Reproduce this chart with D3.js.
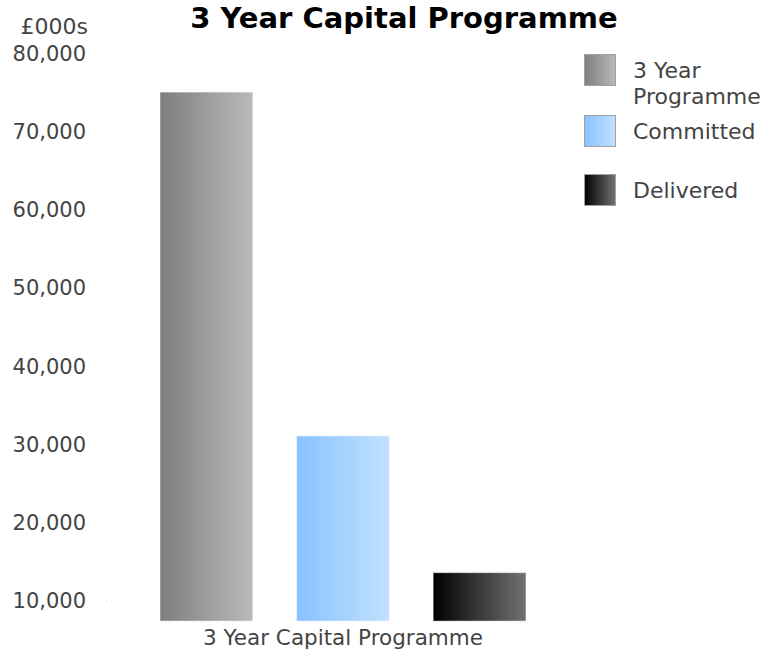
<!DOCTYPE html>
<html>
<head>
<meta charset="utf-8">
<script src="https://cdn.jsdelivr.net/npm/d3@7"></script>
<style>
  body { margin: 0; background: #fff; }
  text { font-family: "DejaVu Sans", sans-serif; }
</style>
</head>
<body>
<div id="chart"></div>
<script>
// data
var category = '3 Year Capital Programme'
var series = ['3 Year Programme', 'Committed', 'Delivered']
var values = [75000, 31000, 13500]
var ticks = [10000, 20000, 30000, 40000, 50000, 60000, 70000, 80000]
var axisMin = 7300
var gradients = [['#7e7e7e', '#bababa'], ['#88c2ff', '#c2e1ff'], ['#000000', '#727272']]

var width = 766
var height = 651

var svg = d3.select('#chart')
  .append('svg')
  .attr('width', width)
  .attr('height', height)

var defs = svg.append('defs')
gradients.forEach((g, i) => {
  var lg = defs.append('linearGradient')
    .attr('id', 'grad' + i)
    .attr('x1', '0%').attr('x2', '100%')
    .attr('y1', '0%').attr('y2', '0%')
  lg.append('stop').attr('offset', '0%').attr('stop-color', g[0])
  lg.append('stop').attr('offset', '100%').attr('stop-color', g[1])
})

var y = d3.scaleLinear()
  .domain([10000, 80000])
  .range([600, 53])

var x = d3.scaleBand()
  .domain(series)
  .range([160, 526])
  .paddingInner(0.32)
  .paddingOuter(0)

var baseline = y(axisMin)

// title: the original is clipped by the top edge, keep it just inside
svg.append('text')
  .attr('x', 404)
  .attr('y', 28)
  .attr('text-anchor', 'middle')
  .attr('font-family', '"Liberation Sans", Arial, sans-serif')
  .attr('font-size', 29)
  .attr('font-weight', 'bold')
  .attr('fill', '#000')
  .text('3 Year Capital Programme')

svg.append('text')
  .attr('x', 88)
  .attr('y', 34)
  .attr('text-anchor', 'end')
  .attr('font-size', 22)
  .attr('fill', '#444')
  .text('£000s')

var axis = svg.append('g')
axis.selectAll('text.tick')
  .data(ticks)
  .enter()
  .append('text')
  .attr('class', 'tick')
  .attr('x', 86)
  .attr('y', (d) => { return y(d) + 8 })
  .attr('text-anchor', 'end')
  .attr('font-size', 21)
  .attr('fill', '#444')
  .text((d) => { return d3.format(',')(d) })
axis.selectAll('rect.dot')
  .data(ticks)
  .enter()
  .append('rect')
  .attr('class', 'dot')
  .attr('x', 106)
  .attr('y', (d) => { return y(d) })
  .attr('width', 1)
  .attr('height', 1)
  .attr('fill', '#ccc')

svg.selectAll('rect.bar')
  .data(values)
  .enter()
  .append('rect')
  .attr('class', 'bar')
  .attr('x', (d, i) => { return x(series[i]) })
  .attr('y', (d) => { return y(d) })
  .attr('width', x.bandwidth())
  .attr('height', (d) => { return baseline - y(d) })
  .attr('fill', (d, i) => { return 'url(#grad' + i + ')' })
  .attr('stroke', 'rgba(255,255,255,0.5)')
  .attr('stroke-width', 1)

svg.append('text')
  .attr('x', 343)
  .attr('y', 645)
  .attr('text-anchor', 'middle')
  .attr('font-size', 21.5)
  .attr('fill', '#444')
  .text(category)

// legend
var legendY = [54, 115, 174]
var legend = svg.selectAll('g.legend')
  .data(series)
  .enter()
  .append('g')
  .attr('class', 'legend')
  .attr('transform', (d, i) => { return 'translate(584,' + legendY[i] + ')' })
legend.append('rect')
  .attr('x', 0.5)
  .attr('y', 0.5)
  .attr('width', 31)
  .attr('height', 31)
  .attr('fill', (d, i) => { return 'url(#grad' + i + ')' })
  .attr('stroke', '#a0a0a0')
legend.each(function (d, i) {
  var g = d3.select(this)
  var lines = i === 0 ? ['3 Year', 'Programme'] : [d]
  lines.forEach((t, j) => {
    g.append('text')
      .attr('x', 49)
      .attr('y', 24 + j * 26)
      .attr('font-size', 22)
      .attr('fill', '#444')
      .text(t)
  })
})
</script>
</body>
</html>
